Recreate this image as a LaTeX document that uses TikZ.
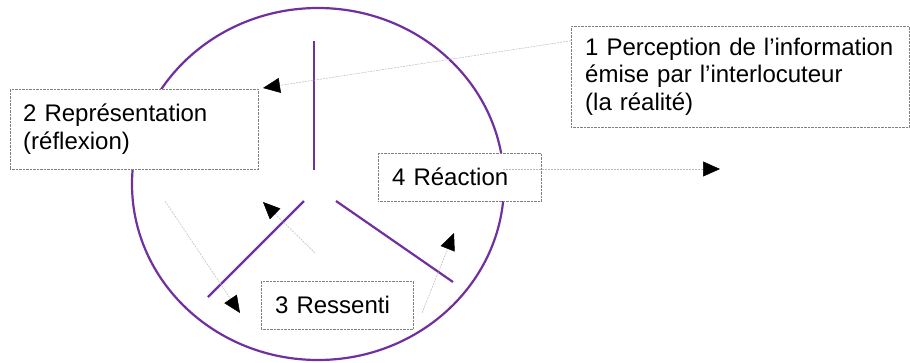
\documentclass[tikz,border=0pt]{standalone}
\usepackage{fontspec}
\setmainfont{Liberation Sans}
\usetikzlibrary{arrows.meta}
\definecolor{violetcercle}{HTML}{7030A0}

\begin{document}
\begin{tikzpicture}[x=1pt,y=-1pt]
\tikzset{boite/.style={draw=gray, densely dotted, fill=white, anchor=north west, align=left, inner xsep=14pt, inner ysep=0pt, font=\fontsize{24}{27.5}\selectfont}}
\tikzset{trait/.style={draw=violetcercle, line width=2.2pt}}
\tikzset{fleche/.style={draw=gray!55, line width=0.5pt, dash pattern=on 2pt off 1pt, -{Triangle[length=17pt,width=15pt,black]}}}
\useasboundingbox (0,0) rectangle (910,362);
\draw[trait] (318,184) ellipse [x radius=186pt, y radius=176pt];
\draw[trait] (314,41) -- (314,170);
\draw[trait] (304,201) -- (208,297);
\draw[trait] (336,201) -- (453,282);
\node[boite, text width=310pt, minimum height=101pt] (B1) at (571,26) {1 Perception de l’information\\émise par l’interlocuteur\\(la réalité)};
\node[boite, inner xsep=13pt, text width=222pt, minimum height=80pt] (B2) at (10,89) {2 Représentation\\(réflexion)\\[-4pt]};
\node[boite, text width=124pt, minimum height=48pt] (B3) at (261,281) {3 Ressenti};
\node[boite, text width=135pt, minimum height=48pt] (B4) at (378,153) {4 Réaction};
\coordinate (t1) at (263,88);
\coordinate (r0) at (503,169);
\coordinate (r1) at (720,169);
\coordinate (g0) at (165,201);
\coordinate (g1) at (240,313);
\coordinate (c0) at (315,253);
\coordinate (c1) at (263,202);
\coordinate (d0) at (422,313);
\coordinate (d1) at (454,233);
\draw[fleche] (B1.168.5) -- (t1);
\draw[fleche] (r0) -- (r1);
\draw[fleche] (g0) -- (g1);
\draw[fleche] (c0) -- (c1);
\draw[fleche] (d0) -- (d1);
\end{tikzpicture}
\end{document}
